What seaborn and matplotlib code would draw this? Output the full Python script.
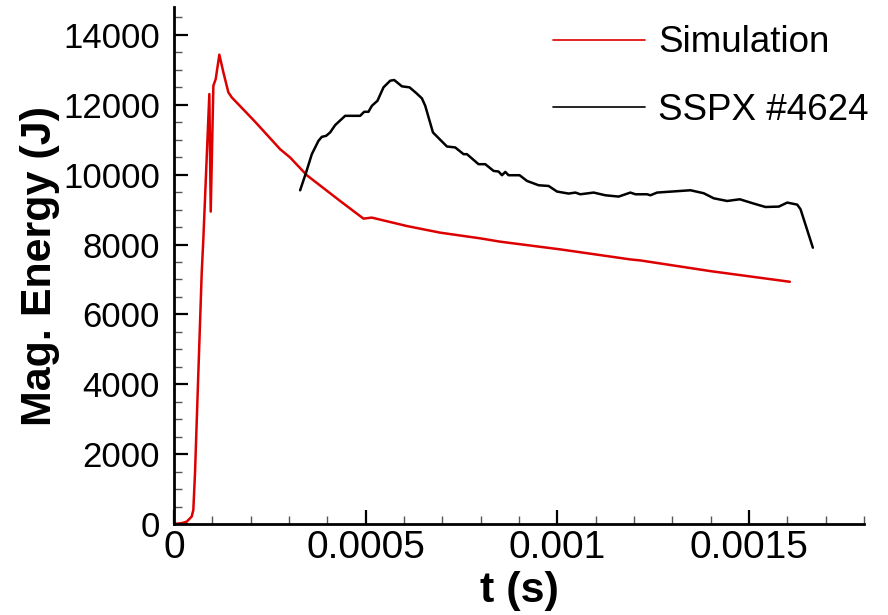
import numpy as np
import pandas as pd
import matplotlib
matplotlib.use("Agg")
import matplotlib.pyplot as plt
import seaborn as sns
from matplotlib.ticker import MultipleLocator

# Simulation (red), t in ms
sim_t_ms = [0, 0.012, 0.022, 0.033, 0.046, 0.0504, 0.0548, 0.0635, 0.0723, 0.0765,
            0.0922, 0.0958, 0.1027, 0.1088, 0.1183, 0.1288, 0.1418, 0.1506, 0.21,
            0.2768, 0.3029, 0.3465, 0.4334, 0.4943, 0.516, 0.6075, 0.6945, 0.799,
            0.851, 1.008, 1.1906, 1.2167, 1.3995, 1.6066]
sim_E = [0, 12, 30, 66, 210, 400, 1455, 4324, 7193, 8148,
         12308, 8943, 12546, 12738, 13436, 12930, 12357, 12213, 11533,
         10730, 10492, 9984, 9247, 8742, 8771, 8530, 8340, 8177,
         8082, 7861, 7574, 7545, 7239, 6934]

# SSPX #4624 (black), t in ms
exp_t_ms = [0.329, 0.3446, 0.3595, 0.3768, 0.3856, 0.3969, 0.4073, 0.4204, 0.4465, 0.4856,
            0.4961, 0.5073, 0.5162, 0.5308, 0.5465, 0.564, 0.5744, 0.5945, 0.6144, 0.6319,
            0.6467, 0.6554, 0.6755, 0.712, 0.7337, 0.7554, 0.7642, 0.7945, 0.812, 0.8337,
            0.8467, 0.8556, 0.8642, 0.8728, 0.9016, 0.9209, 0.9512, 0.9773, 0.9992, 1.0295,
            1.047, 1.060, 1.0948, 1.1253, 1.160, 1.1906, 1.2037, 1.2342, 1.2428, 1.2603,
            1.3473, 1.382, 1.408, 1.443, 1.476, 1.5125, 1.543, 1.5778, 1.5997, 1.6258,
            1.6345, 1.6666]
exp_E = [9553, 10062, 10587, 10968, 11083, 11112, 11209, 11419, 11685, 11685,
         11800, 11800, 11972, 12116, 12500, 12690, 12710, 12529, 12500, 12337,
         12185, 11972, 11209, 10807, 10779, 10587, 10587, 10300, 10300, 10108,
         10090, 9984, 10079, 9984, 9984, 9821, 9697, 9677, 9517, 9459,
         9488, 9439, 9488, 9410, 9373, 9488, 9439, 9439, 9410, 9488,
         9554, 9468, 9324, 9247, 9296, 9172, 9075, 9086, 9201, 9143,
         9009, 7910]

series_names = ["Simulation", "SSPX #4624"]
x_ticks = [0, 0.0005, 0.001, 0.0015]
x_tick_labels = ["0", "0.0005", "0.001", "0.0015"]

df = pd.concat([
    pd.DataFrame({"t": np.array(sim_t_ms) * 1e-3, "E": sim_E, "series": series_names[0]}),
    pd.DataFrame({"t": np.array(exp_t_ms) * 1e-3, "E": exp_E, "series": series_names[1]}),
], ignore_index=True)

sns.set_theme(style="white")
plt.rcParams["font.family"] = ["Liberation Sans", "DejaVu Sans"]
plt.rcParams["text.color"] = "black"
plt.rcParams["axes.labelcolor"] = "black"

fig = plt.figure(figsize=(8.88, 6.15), dpi=100)
ax = fig.add_axes([174/888, 1-524/615, (864-174)/888, (524-7)/615])

sns.lineplot(data=df, x="t", y="E", hue="series", palette=["#dd0000", "black"],
             estimator=None, sort=False, linewidth=1.8, ax=ax)

ax.set_xlim(0, 0.0018)
ax.set_ylim(0, 14800)
ax.set_xticks(x_ticks)
ax.set_xticklabels(x_tick_labels)
ax.yaxis.set_major_locator(MultipleLocator(2000))
ax.xaxis.set_minor_locator(MultipleLocator(0.0001))
ax.yaxis.set_minor_locator(MultipleLocator(500))

for s in ["top", "right"]:
    ax.spines[s].set_visible(False)
for s in ["left", "bottom"]:
    ax.spines[s].set_linewidth(2)
    ax.spines[s].set_color("black")

ax.tick_params(which="major", direction="in", length=10, width=1.6, color="black",
               labelcolor="black")
ax.tick_params(which="minor", direction="in", length=5.5, width=1.0, color="#555555")
ax.tick_params(axis="y", which="major", pad=10, labelsize=25)
ax.tick_params(axis="x", which="major", pad=4, labelsize=28)
ax.tick_params(which="both", bottom=True, left=True)

ax.set_xlabel("t (s)", fontsize=31, fontweight="bold", labelpad=4, color="black")
ax.set_ylabel("Mag. Energy (J)", fontsize=31, fontweight="bold", labelpad=2, color="black")

leg = ax.legend(loc="upper left", bbox_to_anchor=(535/888, 1-7/615),
                bbox_transform=fig.transFigure, frameon=False, fontsize=26.5,
                handlelength=2.5, handletextpad=0.35, labelspacing=0.88, borderpad=0)
for ln in leg.get_lines():
    ln.set_linewidth(1.2)
for txt in leg.get_texts():
    txt.set_color("black")

fig.savefig("out.png", dpi=100)
